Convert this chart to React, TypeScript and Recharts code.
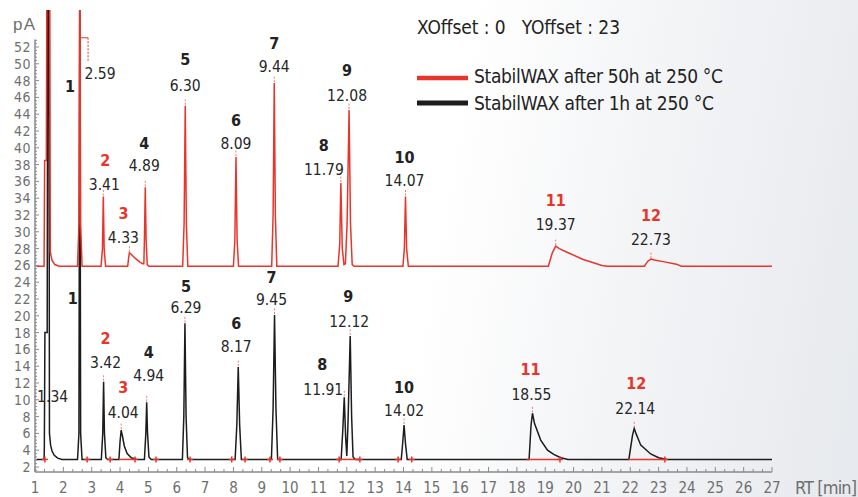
import { ComposedChart, Line, Scatter, XAxis, YAxis, ReferenceLine } from "recharts";

const RED = "#e8352b";
const BLACK = "#1c1c1c";
const AXIS = "#8a8a8a";
const TICK_TEXT = "#6f6f6f";
const FONT = "'DejaVu Sans Condensed', 'Liberation Sans Narrow', sans-serif";

// offset of the red trace, as stated on the chart
const X_OFFSET = 0;
const Y_OFFSET = 23;
const BASE = 2.9;

// traces, [RT min, pA] (red values before the Y offset)
const blackTrace: [number, number][] = [
  [1.05, 2.9], [1.32, 2.9], [1.33, 4.5], [1.35, 18], [1.43, 18], [1.45, 60], [1.49, 60], [1.51, 6],
  [1.55, 4.6], [1.6, 3.9], [1.68, 3.4], [1.8, 3.05], [1.95, 2.9],
  [2.5, 2.9], [2.55, 6], [2.58, 60], [2.61, 6], [2.66, 2.9],
  [3.34, 2.9], [3.39, 6], [3.42, 12.15], [3.45, 6], [3.5, 3.1], [3.56, 2.9],
  [3.96, 2.9], [4.0, 5], [4.04, 6.4], [4.09, 5.6], [4.15, 4.5], [4.25, 3.6], [4.4, 3.1], [4.6, 2.9],
  [4.86, 2.9], [4.91, 6], [4.94, 9.7], [4.97, 6], [5.02, 3.2], [5.1, 2.9],
  [6.2, 2.9], [6.25, 8], [6.29, 19.1], [6.33, 8], [6.38, 3.1], [6.45, 2.9],
  [8.06, 2.9], [8.12, 7], [8.17, 13.9], [8.22, 7], [8.28, 2.9],
  [9.34, 2.9], [9.4, 9], [9.45, 20.1], [9.5, 9], [9.56, 2.9],
  [11.8, 2.9], [11.86, 6.5], [11.91, 10.3], [11.96, 5.5], [12.0, 3.3], [12.04, 7], [12.12, 17.6],
  [12.17, 8], [12.22, 3.2], [12.3, 2.9],
  [13.92, 2.9], [13.97, 4.8], [14.02, 7.0], [14.07, 4.8], [14.13, 2.9],
  [18.43, 2.9], [18.5, 7], [18.55, 8.4], [18.62, 7.2], [18.84, 5.2], [19.08, 4.0], [19.3, 3.5],
  [19.55, 3.1], [19.8, 2.9],
  [21.95, 2.9], [22.08, 5.8], [22.14, 6.6], [22.2, 6.0], [22.37, 4.6], [22.72, 3.55], [23.0, 3.1],
  [23.3, 2.9],
  [27, 2.9],
];

const redTrace: [number, number][] = [
  [1.05, 2.9], [1.32, 2.9], [1.34, 15.5], [1.4, 15.5], [1.42, 40], [1.52, 40], [1.54, 4.6],
  [1.6, 3.6], [1.7, 3.1], [1.85, 2.9],
  [2.5, 2.9], [2.55, 8], [2.58, 40], [2.61, 8], [2.66, 2.9],
  [3.33, 2.9], [3.38, 5], [3.41, 11.2], [3.44, 5], [3.49, 2.9],
  [4.27, 2.9], [4.3, 3.8], [4.33, 4.5], [4.4, 4.3], [4.55, 3.8], [4.7, 3.4], [4.8, 3.2], [4.84, 3.2],
  [4.86, 6], [4.89, 12.3], [4.92, 6], [4.96, 3.1], [5.02, 2.9],
  [6.21, 2.9], [6.26, 8], [6.3, 22.0], [6.34, 8], [6.39, 2.9],
  [8.0, 2.9], [8.05, 6], [8.09, 15.9], [8.13, 6], [8.18, 2.9],
  [9.35, 2.9], [9.4, 9], [9.44, 24.7], [9.48, 9], [9.53, 2.9],
  [11.69, 2.9], [11.75, 5.5], [11.79, 12.8], [11.84, 5], [11.9, 3.1], [11.95, 3.2], [12.01, 8],
  [12.08, 21.5], [12.13, 8], [12.19, 3.1], [12.26, 2.9],
  [13.98, 2.9], [14.03, 5], [14.07, 11.2], [14.11, 5], [14.17, 2.9],
  [19.11, 2.9], [19.25, 4.5], [19.37, 5.3], [19.5, 5.0], [19.75, 4.6], [20.34, 3.7], [20.81, 3.2],
  [21.0, 3.0], [21.2, 2.9],
  [22.5, 2.9], [22.62, 3.5], [22.73, 3.75], [22.85, 3.65], [23.16, 3.45], [23.63, 3.15], [23.8, 2.9],
  [27, 2.9],
];

// peak annotations
const peakNumbers = ["1", "2", "3", "4", "5", "6", "7", "8", "9", "10", "11", "12"];
const redNumbered = [false, true, true, false, false, false, false, false, false, false, true, true];
const redRT = ["2.59", "3.41", "4.33", "4.89", "6.30", "8.09", "9.44", "11.79", "12.08", "14.07", "19.37", "22.73"];
const redApex = [30.1, 11.2, 4.5, 12.3, 22.0, 15.9, 24.7, 12.8, 21.5, 11.2, 5.3, 3.75];
const blackRT = ["", "3.42", "4.04", "4.94", "6.29", "8.17", "9.45", "11.91", "12.12", "14.02", "18.55", "22.14"];
const blackApex = [24, 12.15, 6.4, 9.7, 19.1, 13.9, 20.1, 10.3, 17.6, 7.0, 8.4, 6.6];
const solventRT = "1.34";
const solventApex = 18;

// integration marks on the black trace
const blackCuts = [1.35, 2.84, 3.65, 4.53, 5.27, 6.47, 7.94, 8.41, 9.29, 9.64, 11.73, 12.46, 13.81, 14.29, 19.52, 23.22];
const blackBaselines: [number, number][] = [[3.96, 4.53], [11.73, 12.46], [18.34, 19.52], [21.93, 23.22]];

// label placement, px relative to the apex: [rt dx, rt dy, number dx, number dy]
const redLabelPos = [
  [20, 35, -10, 48], [1, -13, 2, -37], [-6, -16, -6, -40], [-1, -22, -1, -44], [0, -21, 0, -47],
  [0, -14, 0, -37], [0, -17, 0, -40], [-17, -14, -17, -38], [-2, -15, -2, -40], [-1, -17, -1, -40],
  [0, -22, 0, -46], [0, -20, 0, -44],
];
const blackLabelPos = [
  [0, 0, -7, 16], [2, -20, 2, -44], [2, -18, 2, -43], [2, -27, 2, -50], [1, -16, 1, -37],
  [-2, -21, -2, -44], [-3, -16, -3, -38], [-21, -8, -22, -33], [-1, -15, -2, -40], [0, -15, 0, -38],
  [-1, -19, -2, -44], [1, -20, 2, -45],
];

const toPoints = (trace: [number, number][], dy: number) =>
  trace.map(([x, y]) => ({ x: x + X_OFFSET, y: y + dy }));

const blackData = toPoints(blackTrace, 0);
const redData = toPoints(redTrace, Y_OFFSET);

const redLabels = peakNumbers.map((n, i) => ({
  x: parseFloat(redRT[i]), y: redApex[i] + Y_OFFSET, num: n, numRed: redNumbered[i], rt: redRT[i],
  pos: redLabelPos[i], bracket: i === 0, mark: i > 0,
}));
const blackLabels = peakNumbers.map((n, i) => ({
  x: i === 0 ? 2.58 : parseFloat(blackRT[i]), y: blackApex[i], num: n, numRed: redNumbered[i], rt: blackRT[i],
  pos: blackLabelPos[i], bracket: false, mark: i > 0,
})).concat([{
  x: 1.34, y: solventApex, num: "", numRed: false, rt: solventRT, pos: [8, 63, 0, 0], bracket: false, mark: false,
}]);
const cutData = blackCuts.map((x) => ({ x, y: BASE }));

const xTicks = Array.from({ length: 79 }, (_, k) => 1 + k / 3);
const yTicks = Array.from({ length: 129 }, (_, k) => Math.round((1.6 + k * 0.4) * 10) / 10);
const isInt = (v: number) => Math.abs(v - Math.round(v)) < 1e-6;

const XTick = (props: any) => {
  const { x, y, payload } = props;
  const major = isInt(payload.value);
  return (
    <g>
      <line x1={x} x2={x} y1={y} y2={y - (major ? 5 : 3)} stroke={AXIS} strokeWidth={1} />
      {major && (
        <text x={x} y={y + 21} textAnchor="middle" fontSize={15} fontFamily={FONT} fill={TICK_TEXT}>
          {Math.round(payload.value)}
        </text>
      )}
    </g>
  );
};

const YTick = (props: any) => {
  const { x, y, payload } = props;
  const v = payload.value;
  const major = isInt(v) && Math.round(v) % 2 === 0;
  return (
    <g>
      <line x1={x} x2={x + (major ? 4 : 2)} y1={y} y2={y} stroke={AXIS} strokeWidth={1} />
      {major && (
        <text x={x - 4} y={y + 5} textAnchor="end" fontSize={14} fontFamily={FONT} letterSpacing={0.5} fill={TICK_TEXT}>
          {Math.round(v)}
        </text>
      )}
    </g>
  );
};

const PeakLabel = (props: any) => {
  const { cx, cy, payload } = props;
  const [rdx, rdy, ndx, ndy] = payload.pos;
  return (
    <g>
      {payload.mark && (
        <line x1={cx} x2={cx} y1={cy - 1} y2={cy - 7} stroke="#f07b74" strokeWidth={1} strokeDasharray="2 1.5" />
      )}
      {payload.bracket && (
        <g fill="none" stroke={RED} strokeWidth={1}>
          <path d={`M${cx},${cy} H${cx + 8}`} />
          <path d={`M${cx + 8},${cy} V${cy + 23}`} strokeDasharray="2 1.5" />
        </g>
      )}
      {payload.num && (
        <text x={cx + ndx} y={cy + ndy + 6} textAnchor="middle" fontSize={16} fontWeight="bold" fontFamily={FONT}
          fill={payload.numRed ? RED : "#222"}>
          {payload.num}
        </text>
      )}
      {payload.rt && (
        <text x={cx + rdx} y={cy + rdy + 6} textAnchor="middle" fontSize={15.5} fontFamily={FONT} fill="#262626">
          {payload.rt}
        </text>
      )}
    </g>
  );
};

const CutMark = (props: any) => {
  const { cx, cy } = props;
  return (
    <g stroke={RED} strokeWidth={1.5}>
      <line x1={cx - 3} x2={cx + 3} y1={cy} y2={cy} />
      <line x1={cx} x2={cx} y1={cy - 3} y2={cy + 3} />
    </g>
  );
};

export default function App() {
  return (
    <div
      style={{
        position: "absolute", left: 0, top: 0, width: 858, height: 497, overflow: "hidden",
        background: "linear-gradient(100deg, #ffffff 0%, #ffffff 50%, #f3f4f6 72%, #e6e9ed 100%)",
      }}
    >
      <ComposedChart width={858} height={497} margin={{ top: 10, right: 86, bottom: 0, left: 0 }}>
        <XAxis dataKey="x" type="number" domain={[1, 27]} allowDataOverflow ticks={xTicks} interval={0}
          tick={<XTick />} tickLine={false} tickSize={0} tickMargin={0} height={25}
          axisLine={{ stroke: AXIS, strokeWidth: 1.5 }} />
        <YAxis dataKey="y" type="number" domain={[1.405, 56.405]} allowDataOverflow ticks={yTicks} interval={0}
          tick={<YTick />} tickLine={false} tickSize={0} tickMargin={0} width={35} axisLine={false} />
        <ReferenceLine segment={[{ x: 1, y: 1.405 }, { x: 1, y: 52.9 }]} stroke={AXIS} strokeWidth={1.5} />
        <Line data={blackData} dataKey="y" stroke={BLACK} strokeWidth={1.5} dot={false} isAnimationActive={false} />
        {blackBaselines.map(([a, b], i) => (
          <ReferenceLine key={i} segment={[{ x: a, y: BASE }, { x: b, y: BASE }]} stroke={RED} strokeWidth={1.5} />
        ))}
        <Scatter data={cutData} dataKey="y" shape={<CutMark />} isAnimationActive={false} />
        <Line data={redData} dataKey="y" stroke={RED} strokeWidth={1.5} dot={false} isAnimationActive={false} />
        <Scatter data={blackLabels} dataKey="y" shape={<PeakLabel />} isAnimationActive={false} />
        <Scatter data={redLabels} dataKey="y" shape={<PeakLabel />} isAnimationActive={false} />
      </ComposedChart>
      <svg width={858} height={497} style={{ position: "absolute", left: 0, top: 0, pointerEvents: "none" }}>
        <text x={13} y={30} fontSize={17} fontFamily="'Liberation Sans', sans-serif" fill={TICK_TEXT} textLength={22}>pA</text>
        <text x={795} y={494} fontSize={18} fontFamily={FONT} fill={TICK_TEXT} textLength={62}>RT [min]</text>
        <text x={417} y={34} fontSize={19} fontFamily={FONT} fill="#222" textLength={203} xmlSpace="preserve">
          XOffset : 0   YOffset : 23
        </text>
        <line x1={417} x2={468} y1={78} y2={78} stroke={RED} strokeWidth={4.5} />
        <text x={474} y={83} fontSize={19} fontFamily={FONT} fill="#222" textLength={249}>StabilWAX after 50h at 250 °C</text>
        <line x1={417} x2={468} y1={103} y2={103} stroke={BLACK} strokeWidth={5} />
        <text x={474} y={110} fontSize={19} fontFamily={FONT} fill="#222" textLength={240}>StabilWAX after 1h at 250 °C</text>
      </svg>
    </div>
  );
}
